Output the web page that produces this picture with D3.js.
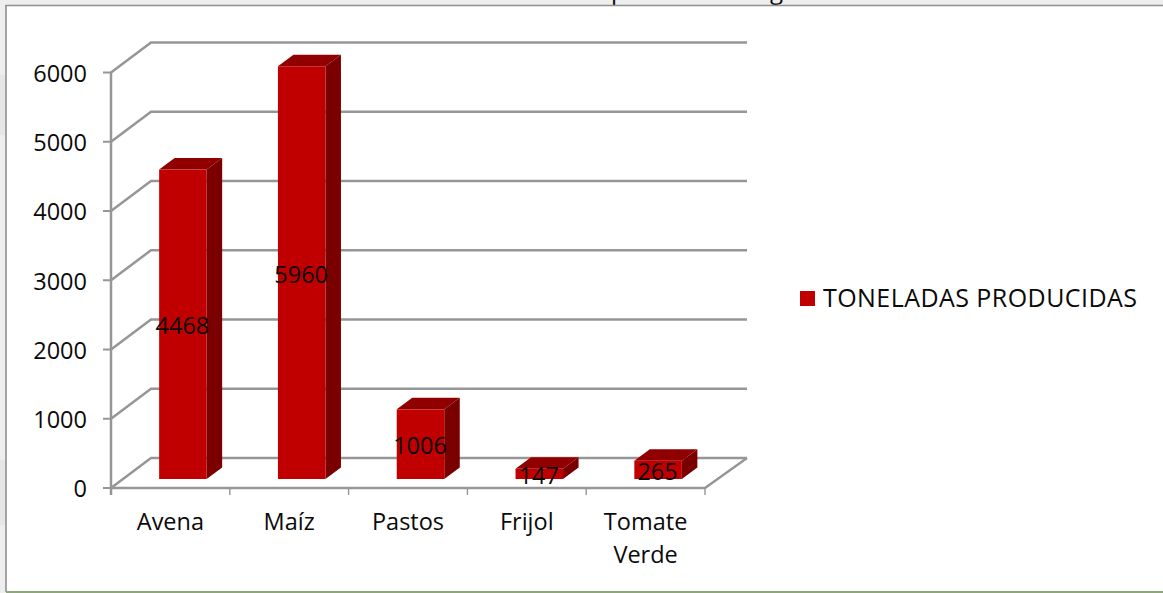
<!DOCTYPE html>
<html><head><meta charset="utf-8">
<script src="https://cdnjs.cloudflare.com/ajax/libs/d3/7.8.5/d3.min.js"></script>
<style>html,body{margin:0;padding:0;background:#fff;overflow:hidden}svg{display:block}
text{font-family:"Open Sans",sans-serif;fill:#0a0a0a}</style></head><body>
<svg id="c" width="1163" height="593"></svg>
<script>
const categories = ["Avena","Maíz","Pastos","Frijol","Tomate Verde"];
const seriesName = "TONELADAS PRODUCIDAS";
const values = [4468,5960,1006,147,265];
const yTicks = [0,1000,2000,3000,4000,5000,6000];
const titleFragments = [{t:"p",x:611},{t:"g",x:770}];

const svg = d3.select("#c");
const W=1163,H=593;
const wall={dx:40,dy:-30}, inset={dx:12.5,dy:-9}, depth={dx:15.5,dy:-11.5};
const x=d3.scaleBand().domain(categories).range([111,705]).paddingInner(0).paddingOuter(0);
const y=d3.scaleLinear().domain([0,6000]).range([488,72.5]);
const barW=x.step()*0.4;
const gridC="#969696",frontC="#c00000",sideC="#7a0000",topC="#900000";

// page backdrop and panel
svg.append("rect").attr("width",W).attr("height",H).attr("fill","#eeeeee");
svg.append("rect").attr("x",0).attr("y",75).attr("width",5).attr("height",60).attr("fill","#e6e6e6");
svg.append("rect").attr("x",0).attr("y",460).attr("width",5).attr("height",65).attr("fill","#e6e6e6");
svg.selectAll(".tf").data(titleFragments).join("text").attr("class","tf")
  .attr("x",d=>d.x).attr("y",-1).attr("font-size",24).text(d=>d.t);
svg.append("rect").attr("x",6).attr("y",6).attr("width",W-6).attr("height",585).attr("fill","#fff");
svg.append("path").attr("d",`M6,${H-1}V5.5H${W}`).attr("fill","none").attr("stroke","#8f8f8f").attr("stroke-width",1.6);
svg.append("line").attr("x1",6).attr("x2",W).attr("y1",H-1).attr("y2",H-1).attr("stroke","#8fa67c").attr("stroke-width",2);

// walls and gridlines
const g=svg.append("g").attr("fill","none").attr("stroke",gridC).attr("stroke-width",2.5);
g.selectAll(".grid").data(yTicks).join("path").attr("class","grid")
  .attr("d",d=>d3.line()([[x.range()[0],y(d)],[x.range()[0]+wall.dx,y(d)+wall.dy],[x.range()[1]+wall.dx+2,y(d)+wall.dy]]));
g.append("path").attr("d",d3.line()([[x.range()[0],y(0)],[x.range()[1],y(0)],[x.range()[1]+wall.dx+2,y(0)+wall.dy]]));
g.append("line").attr("x1",111).attr("x2",111).attr("y1",y(6000)).attr("y2",y(0)+7);
g.selectAll(".yt").data(yTicks).join("line").attr("class","yt").attr("stroke-width",2)
  .attr("x1",103).attr("x2",111).attr("y1",d=>y(d)).attr("y2",d=>y(d));
const edges=[...categories.map(c=>x(c)),x.range()[1]];
g.selectAll(".xt").data(edges).join("line").attr("class","xt")
  .attr("x1",d=>d).attr("x2",d=>d).attr("y1",y(0)).attr("y2",y(0)+7).attr("stroke-width",1.4);

// axis labels
svg.selectAll(".yl").data(yTicks).join("text").attr("class","yl")
  .attr("x",87).attr("y",d=>y(d)+1).attr("dy","0.36em").attr("text-anchor","end").attr("font-size",23.5).text(d=>d);
svg.selectAll(".xl").data(categories).join("text").attr("class","xl")
  .attr("text-anchor","middle").attr("font-size",23.5)
  .each(function(d){
    const cx=x(d)+x.step()/2;
    d.split(" ").forEach((w,i)=>d3.select(this).append("tspan").attr("x",cx).attr("y",530+i*33).text(w));
  });

// bars
const bars=svg.selectAll(".bar").data(categories.map((c,i)=>({c,v:values[i]}))).join("g").attr("class","bar");
const L=d=>x(d.c)+(x.step()-barW)/2+inset.dx, R=d=>L(d)+barW, T=d=>y(d.v)+inset.dy, B=()=>y(0)+inset.dy;
bars.append("path").attr("fill",sideC).attr("d",d=>d3.line()([[R(d),T(d)],[R(d)+depth.dx,T(d)+depth.dy],[R(d)+depth.dx,B()+depth.dy],[R(d),B()]])+"Z");
bars.append("path").attr("fill",topC).attr("d",d=>d3.line()([[L(d),T(d)],[L(d)+depth.dx,T(d)+depth.dy],[R(d)+depth.dx,T(d)+depth.dy],[R(d),T(d)]])+"Z");
bars.append("rect").attr("fill",frontC).attr("x",L).attr("y",T).attr("width",barW).attr("height",d=>B()-T(d));
bars.append("text").attr("x",d=>(L(d)+R(d))/2-0.5).attr("y",d=>(T(d)+B())/2+1.5).attr("dy","0.36em")
  .attr("text-anchor","middle").attr("font-size",23.5).text(d=>d.v);

// legend
svg.append("rect").attr("x",800).attr("y",291).attr("width",15).attr("height",15).attr("fill",frontC);
svg.append("text").attr("x",823).attr("y",298).attr("dy","0.36em").attr("font-size",25).attr("textLength",314).text(seriesName);
</script></body></html>
